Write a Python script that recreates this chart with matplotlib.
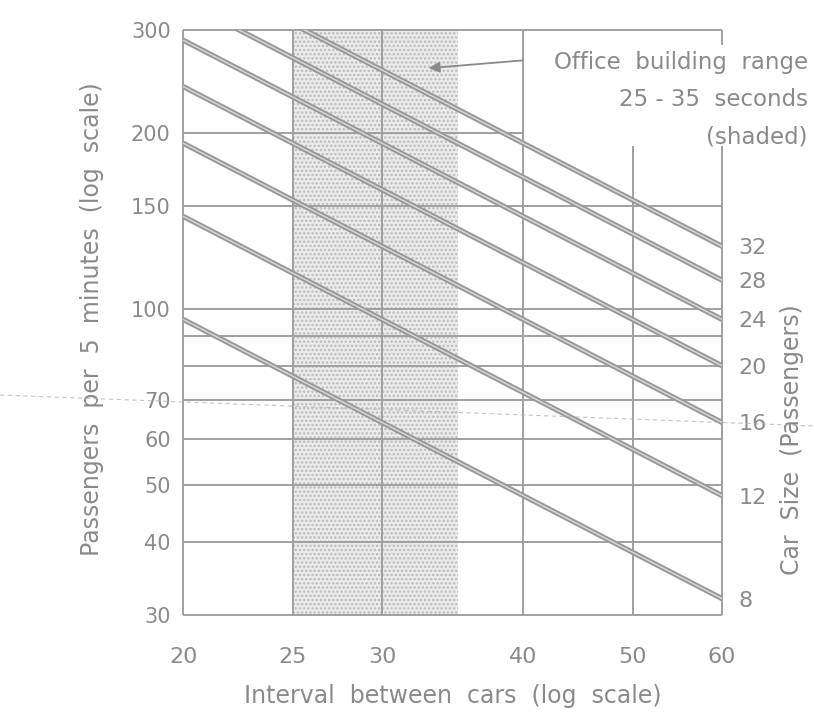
#!/usr/bin/env python3
"""Elevator handling capacity chart: passengers per 5 min vs interval between cars."""
import matplotlib

matplotlib.use("Agg")
import matplotlib.pyplot as plt
from matplotlib.lines import Line2D

# car size lines, read at the two ends of the x range (20 s and 60 s)
car_sizes = [8, 12, 16, 20, 24, 28, 32]
pass_at_20 = [96, 144, 192, 240, 288, 336, 384]
pass_at_60 = [32, 48, 64, 80, 96, 112, 128]
interval_ends = [20, 60]

x_ticks = [20, 25, 30, 40, 50, 60]
y_ticks = [30, 40, 50, 60, 70, 100, 150, 200, 300]
y_grid = [30, 40, 50, 60, 70, 80, 90, 100, 150, 200, 300]
office_range = [25, 35]

INK = "#8a8a8a"
GRID = "#a0a0a0"
LINE = "#989898"

plt.rcParams["hatch.linewidth"] = 1.2

fig = plt.figure(figsize=(8.14, 7.27), dpi=100)
ax = fig.add_axes([0.225, 0.154, 0.662, 0.805])
ax.set_xscale("log")
ax.set_yscale("log")
ax.set_xlim(20, 60)
ax.set_ylim(30, 300)
for s in ax.spines.values():
    s.set_visible(False)

# shaded office building range
ax.axvspan(office_range[0], office_range[1], facecolor="#ececec",
           edgecolor="#bababa", hatch="....", linewidth=0, zorder=0)

# grid (the annotation box leaves a gap top right)
for x in x_ticks:
    top = 190 if x >= 50 else 300
    ax.vlines(x, 30, top, color=GRID, lw=1.4, zorder=1, clip_on=False)
ax.vlines(60, 283, 300, color=GRID, lw=1.4, zorder=1, clip_on=False)
for y in y_grid:
    right = 40 if y == 200 else 60
    ax.hlines(y, 20, right, color=GRID, lw=1.4, zorder=1, clip_on=False)

# car size lines, drawn as double strokes like the original
for p20, p60 in zip(pass_at_20, pass_at_60):
    ax.plot(interval_ends, [p20, p60], color=LINE, lw=3.8,
            solid_capstyle="butt", zorder=2)
    ax.plot(interval_ends, [p20, p60], color="#dadada", lw=1.0,
            solid_capstyle="butt", zorder=3)

ax.set_xticks(x_ticks, labels=[str(v) for v in x_ticks])
ax.set_yticks(y_ticks, labels=[str(v) for v in y_ticks])
ax.xaxis.set_minor_locator(matplotlib.ticker.NullLocator())
ax.yaxis.set_minor_locator(matplotlib.ticker.NullLocator())
ax.tick_params(axis="both", length=0, labelcolor=INK)
ax.tick_params(axis="x", pad=23, labelsize=16)
ax.tick_params(axis="y", pad=9, labelsize=15)

ax.set_xlabel("Interval  between  cars  (log  scale)", fontsize=17,
              color=INK, labelpad=12)
ax.set_ylabel("Passengers  per  5  minutes  (log  scale)", fontsize=17,
              color=INK)
ax.yaxis.set_label_coords(-0.147, 0.505)

# right axis: car size labels at the line ends
ax2 = ax.twinx()
ax2.set_yscale("log")
ax2.set_ylim(30, 300)
for s in ax2.spines.values():
    s.set_visible(False)
ax2.set_yticks(pass_at_60, labels=[str(v) for v in car_sizes])
ax2.yaxis.set_minor_locator(matplotlib.ticker.NullLocator())
ax2.tick_params(axis="y", length=0, labelsize=16, labelcolor=INK, pad=12)
ax2.set_ylabel("Car  Size  (Passengers)", fontsize=17, color=INK)
ax2.yaxis.set_label_coords(1.108, 0.30)

# annotation
ax.annotate("", xy=(33, 258), xytext=(40, 266),
            arrowprops=dict(arrowstyle="-|>", color=INK, lw=1.3,
                            mutation_scale=16, shrinkA=0, shrinkB=0),
            zorder=5)
for text, ypx in [("Office  building  range", 62),
                  ("25 - 35  seconds", 99),
                  ("(shaded)", 137)]:
    fig.text(808 / 814, 1 - ypx / 727, text, ha="right", va="center",
             fontsize=16.5, color=INK)

# faint fold line from the scan
fig.add_artist(Line2D([0, 1], [1 - 395 / 727, 1 - 426 / 727],
                      transform=fig.transFigure, color="#b4b4b4", lw=0.8,
                      ls=(0, (4, 3)), alpha=0.8))

fig.savefig("out.png", dpi=100)
